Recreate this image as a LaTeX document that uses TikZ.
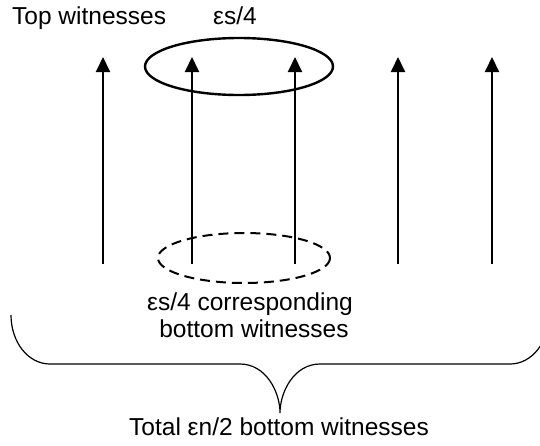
\documentclass[tikz,border=0pt]{standalone}
\usepackage{fontspec}
\setmainfont{Liberation Sans}
\usetikzlibrary{arrows.meta}
\begin{document}
\begin{tikzpicture}[x=1pt,y=-1pt,
  lbl/.style={inner sep=0pt,anchor=base,font=\fontsize{24.5}{29}\selectfont},
  upar/.style={line width=2pt,-{Triangle[length=15pt,width=14pt]}},
  bracepath/.style={line width=1.2pt}]
\useasboundingbox (0,0) rectangle (540,445);
\clip (0,0) rectangle (540,445);
% arrows
\foreach \i/\x in {1/103,2/192,3/295,4/398,5/492}{
  \coordinate (b\i) at (\x,264);
  \coordinate (t\i) at (\x,57);
}
\foreach \i in {1,...,5}{\draw[upar] (b\i) -- (t\i);}
% top ellipse
\draw[line width=2.4pt] (239,66.5) ellipse [x radius=94,y radius=28.5];
% dashed ellipse
\draw[line width=2pt,dash pattern=on 10pt off 6pt] (244,258) ellipse [x radius=86,y radius=25];
% texts
\node[lbl,anchor=base west] (top) at (12,24) {Top witnesses};
\node[lbl,anchor=base west] (eps) at (213,24) {εs/4};
\node[lbl] (corr1) at (250,310) {εs/4 corresponding};
\node[lbl] (corr2) at (254,337) {bottom witnesses};
\node[lbl] (total) at (279,435) {Total εn/2 bottom witnesses};
% brace
\draw[bracepath] (11,315) .. controls (11,342) and (28,364) .. (50,364) -- (240,364)
  .. controls (266,364) and (280,392) .. (280,413)
  .. controls (280,392) and (294,364) .. (320,364) -- (510,364)
  .. controls (532,364) and (549,342) .. (549,315);
\end{tikzpicture}
\end{document}
